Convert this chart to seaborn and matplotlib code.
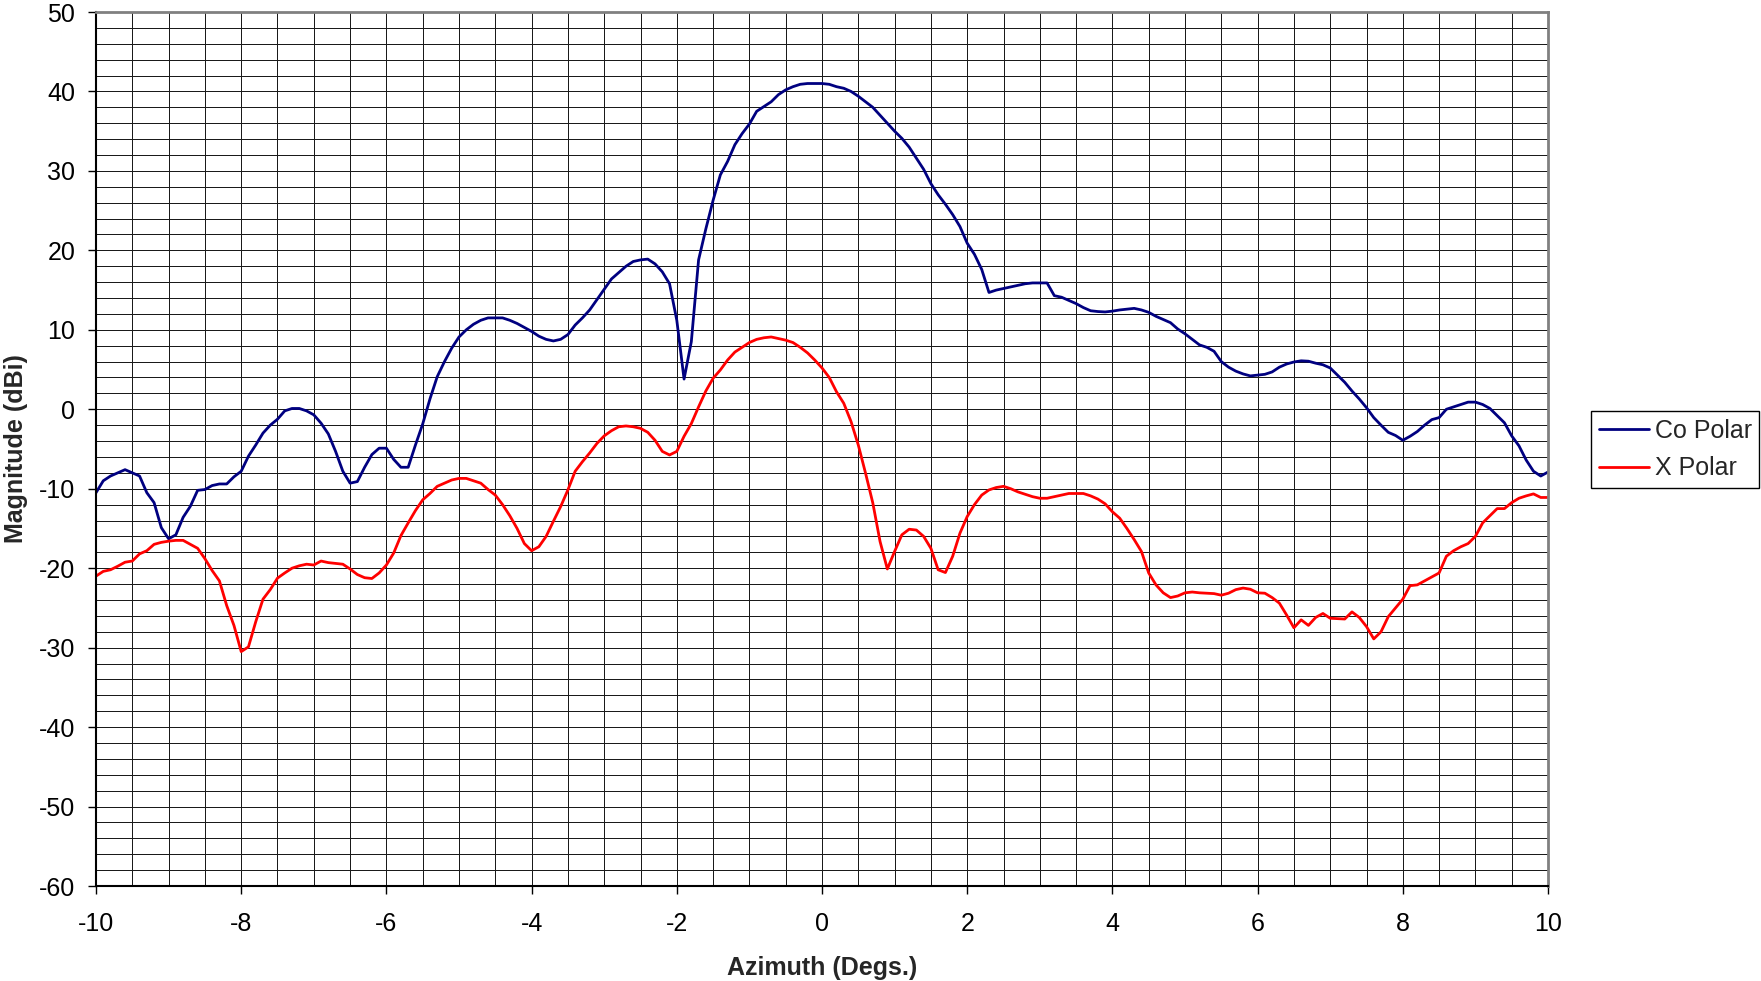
import numpy as np
import pandas as pd
import matplotlib
matplotlib.use("Agg")
import matplotlib.pyplot as plt
from matplotlib.ticker import MultipleLocator
import seaborn as sns

# ---------------- data ----------------
azimuth = [
    -10.0, -9.9, -9.8, -9.7, -9.6, -9.5, -9.4, -9.3, -9.2, -9.1,
    -9.0, -8.9, -8.8, -8.7, -8.6, -8.5, -8.4, -8.3, -8.2, -8.1,
    -8.0, -7.9, -7.8, -7.7, -7.6, -7.5, -7.4, -7.3, -7.2, -7.1,
    -7.0, -6.9, -6.8, -6.7, -6.6, -6.5, -6.4, -6.3, -6.2, -6.1,
    -6.0, -5.9, -5.8, -5.7, -5.6, -5.5, -5.4, -5.3, -5.2, -5.1,
    -5.0, -4.9, -4.8, -4.7, -4.6, -4.5, -4.4, -4.3, -4.2, -4.1,
    -4.0, -3.9, -3.8, -3.7, -3.6, -3.5, -3.4, -3.3, -3.2, -3.1,
    -3.0, -2.9, -2.8, -2.7, -2.6, -2.5, -2.4, -2.3, -2.2, -2.1,
    -2.0, -1.9, -1.8, -1.7, -1.6, -1.5, -1.4, -1.3, -1.2, -1.1,
    -1.0, -0.9, -0.8, -0.7, -0.6, -0.5, -0.4, -0.3, -0.2, -0.1,
    0.0, 0.1, 0.2, 0.3, 0.4, 0.5, 0.6, 0.7, 0.8, 0.9,
    1.0, 1.1, 1.2, 1.3, 1.4, 1.5, 1.6, 1.7, 1.8, 1.9,
    2.0, 2.1, 2.2, 2.3, 2.4, 2.5, 2.6, 2.7, 2.8, 2.9,
    3.0, 3.1, 3.2, 3.3, 3.4, 3.5, 3.6, 3.7, 3.8, 3.9,
    4.0, 4.1, 4.2, 4.3, 4.4, 4.5, 4.6, 4.7, 4.8, 4.9,
    5.0, 5.1, 5.2, 5.3, 5.4, 5.5, 5.6, 5.7, 5.8, 5.9,
    6.0, 6.1, 6.2, 6.3, 6.4, 6.5, 6.6, 6.7, 6.8, 6.9,
    7.0, 7.1, 7.2, 7.3, 7.4, 7.5, 7.6, 7.7, 7.8, 7.9,
    8.0, 8.1, 8.2, 8.3, 8.4, 8.5, 8.6, 8.7, 8.8, 8.9,
    9.0, 9.1, 9.2, 9.3, 9.4, 9.5, 9.6, 9.7, 9.8, 9.9,
    10.0,
]

co_polar = [
    -10.5, -9.0, -8.4, -8.0, -7.6, -8.0, -8.4, -10.5, -11.75, -14.9,
    -16.3, -15.8, -13.6, -12.2, -10.2, -10.1, -9.6, -9.4, -9.4, -8.5,
    -7.8, -5.9, -4.5, -3.0, -2.0, -1.25, -0.2, 0.1, 0.1, -0.2,
    -0.7, -1.75, -3.1, -5.3, -7.8, -9.3, -9.1, -7.3, -5.7, -4.9,
    -4.9, -6.3, -7.3, -7.3, -4.5, -1.85, 1.3, 4.1, 6.0, 7.7,
    9.1, 10.0, 10.7, 11.2, 11.5, 11.5, 11.5, 11.2, 10.8, 10.3,
    9.8, 9.2, 8.8, 8.6, 8.8, 9.4, 10.6, 11.5, 12.5, 13.8,
    15.1, 16.4, 17.2, 18.0, 18.6, 18.8, 18.9, 18.3, 17.3, 15.8,
    11.2, 3.8, 8.5, 18.8, 22.7, 26.3, 29.5, 31.2, 33.3, 34.7,
    35.9, 37.5, 38.1, 38.7, 39.6, 40.2, 40.6, 40.9, 41.0, 41.0,
    41.0, 40.9, 40.6, 40.4, 40.0, 39.4, 38.7, 38.0, 37.0, 36.0,
    35.0, 34.1, 33.0, 31.6, 30.2, 28.4, 27.0, 25.8, 24.5, 23.0,
    20.9, 19.5, 17.6, 14.7, 15.0, 15.2, 15.4, 15.6, 15.8, 15.9,
    15.9, 15.9, 14.3, 14.1, 13.7, 13.3, 12.8, 12.4, 12.3, 12.25,
    12.35, 12.5, 12.6, 12.7, 12.5, 12.2, 11.7, 11.3, 10.9, 10.1,
    9.5, 8.8, 8.1, 7.8, 7.3, 6.0, 5.3, 4.8, 4.45, 4.2,
    4.3, 4.4, 4.7, 5.3, 5.7, 5.95, 6.1, 6.05, 5.8, 5.6,
    5.2, 4.3, 3.4, 2.3, 1.3, 0.2, -1.05, -2.0, -2.9, -3.3,
    -3.9, -3.4, -2.8, -2.0, -1.3, -1.05, 0.0, 0.3, 0.6, 0.9,
    0.9, 0.6, 0.1, -0.8, -1.7, -3.35, -4.6, -6.4, -7.8, -8.4,
    -7.9,
]

x_polar = [
    -21.0, -20.4, -20.2, -19.75, -19.25, -19.1, -18.2, -17.8, -17.0, -16.75,
    -16.6, -16.5, -16.5, -17.0, -17.5, -18.8, -20.3, -21.6, -24.7, -27.2,
    -30.5, -29.9, -26.75, -23.9, -22.7, -21.25, -20.6, -20.0, -19.7, -19.5,
    -19.6, -19.1, -19.3, -19.4, -19.5, -20.1, -20.8, -21.2, -21.3, -20.6,
    -19.6, -18.1, -15.9, -14.3, -12.75, -11.4, -10.6, -9.7, -9.3, -8.9,
    -8.7, -8.7, -9.0, -9.3, -10.1, -10.8, -12.0, -13.4, -15.0, -16.9,
    -17.8, -17.3, -16.0, -14.1, -12.25, -10.15, -7.8, -6.6, -5.5, -4.3,
    -3.35, -2.7, -2.2, -2.1, -2.2, -2.4, -2.9, -3.9, -5.3, -5.75,
    -5.3, -3.4, -1.8, 0.3, 2.3, 3.9, 4.95, 6.2, 7.2, 7.8,
    8.4, 8.8, 9.0, 9.1, 8.9, 8.7, 8.4, 7.8, 7.1, 6.2,
    5.2, 4.0, 2.2, 0.75, -1.55, -4.5, -8.05, -11.8, -16.65, -20.1,
    -17.9, -15.8, -15.1, -15.2, -16.0, -17.5, -20.2, -20.55, -18.5, -15.6,
    -13.5, -12.0, -10.8, -10.15, -9.85, -9.7, -10.0, -10.4, -10.7, -11.0,
    -11.2, -11.2, -11.0, -10.8, -10.6, -10.6, -10.6, -10.9, -11.3, -11.9,
    -12.9, -13.7, -15.0, -16.4, -17.9, -20.6, -22.1, -23.1, -23.7, -23.5,
    -23.1, -23.0, -23.1, -23.15, -23.2, -23.4, -23.15, -22.7, -22.5, -22.65,
    -23.1, -23.15, -23.7, -24.4, -25.9, -27.5, -26.5, -27.2, -26.2, -25.7,
    -26.3, -26.35, -26.4, -25.5, -26.2, -27.35, -28.9, -28.0, -26.1, -25.0,
    -23.9, -22.2, -22.1, -21.6, -21.1, -20.6, -18.5, -17.8, -17.3, -16.9,
    -16.0, -14.3, -13.4, -12.5, -12.5, -11.75, -11.2, -10.9, -10.65, -11.1,
    -11.1,
]

series_names = ["Co Polar", "X Polar"]
series_colors = ["#000080", "#FF0000"]

x_ticks = [-10, -8, -6, -4, -2, 0, 2, 4, 6, 8, 10]
y_ticks = [-60, -50, -40, -30, -20, -10, 0, 10, 20, 30, 40, 50]

# ---------------- build table ----------------
df = pd.concat([
    pd.DataFrame({"Azimuth": azimuth, "Magnitude": co_polar, "Series": series_names[0]}),
    pd.DataFrame({"Azimuth": azimuth, "Magnitude": x_polar, "Series": series_names[1]}),
], ignore_index=True)

# ---------------- style ----------------
sns.set_style("white")
plt.rcParams["font.family"] = ["Liberation Sans", "DejaVu Sans"]
plt.rcParams["font.size"] = 18

W, H = 1761, 981
fig = plt.figure(figsize=(W / 100, H / 100), dpi=100)
ax = fig.add_axes([96 / W, 1 - 886 / H, (1548 - 96) / W, (886 - 12) / H])

sns.lineplot(
    data=df, x="Azimuth", y="Magnitude", hue="Series",
    palette=dict(zip(series_names, series_colors)),
    estimator=None, sort=False, linewidth=2.0, ax=ax, legend=True,
)

ax.set_xlim(-10, 10)
ax.set_ylim(-60, 50)
ax.set_xticks(x_ticks)
ax.set_yticks(y_ticks)
ax.set_xticklabels([str(v) for v in x_ticks])
ax.set_yticklabels([str(v) for v in y_ticks])
ax.xaxis.set_minor_locator(MultipleLocator(0.5))
ax.yaxis.set_minor_locator(MultipleLocator(2))

ax.grid(True, which="both", color="#1a1a1a", linewidth=0.72)
ax.set_axisbelow(True)

ax.tick_params(axis="both", which="major", direction="out", length=6,
               width=1.0, color="black", labelsize=18, labelcolor="black",
               left=True, bottom=True)
ax.tick_params(axis="x", which="major", pad=13)
ax.tick_params(axis="y", which="major", pad=9)
ax.tick_params(axis="both", which="minor", length=0)

for side in ("left", "bottom"):
    ax.spines[side].set_color("black")
    ax.spines[side].set_linewidth(1.5)
for side in ("top", "right"):
    ax.spines[side].set_color("#808080")
    ax.spines[side].set_linewidth(2.0)

ax.set_xlabel("Azimuth (Degs.)", fontsize=18, fontweight="bold", labelpad=14)
ax.set_ylabel("Magnitude (dBi)", fontsize=18, fontweight="bold", labelpad=8)

handles, labels = ax.get_legend_handles_labels()
ax.legend(
    handles, labels,
    loc="upper left", bbox_to_anchor=(1591 / W, 1 - 411 / H),
    bbox_transform=fig.transFigure, borderaxespad=0,
    frameon=True, fancybox=False, shadow=False, edgecolor="black",
    framealpha=1, fontsize=18, handlelength=2.0, handletextpad=0.25,
    borderpad=0.3, labelspacing=0.55,
)
ax.get_legend().get_frame().set_linewidth(1.0)

fig.savefig("out.png", dpi=100)
